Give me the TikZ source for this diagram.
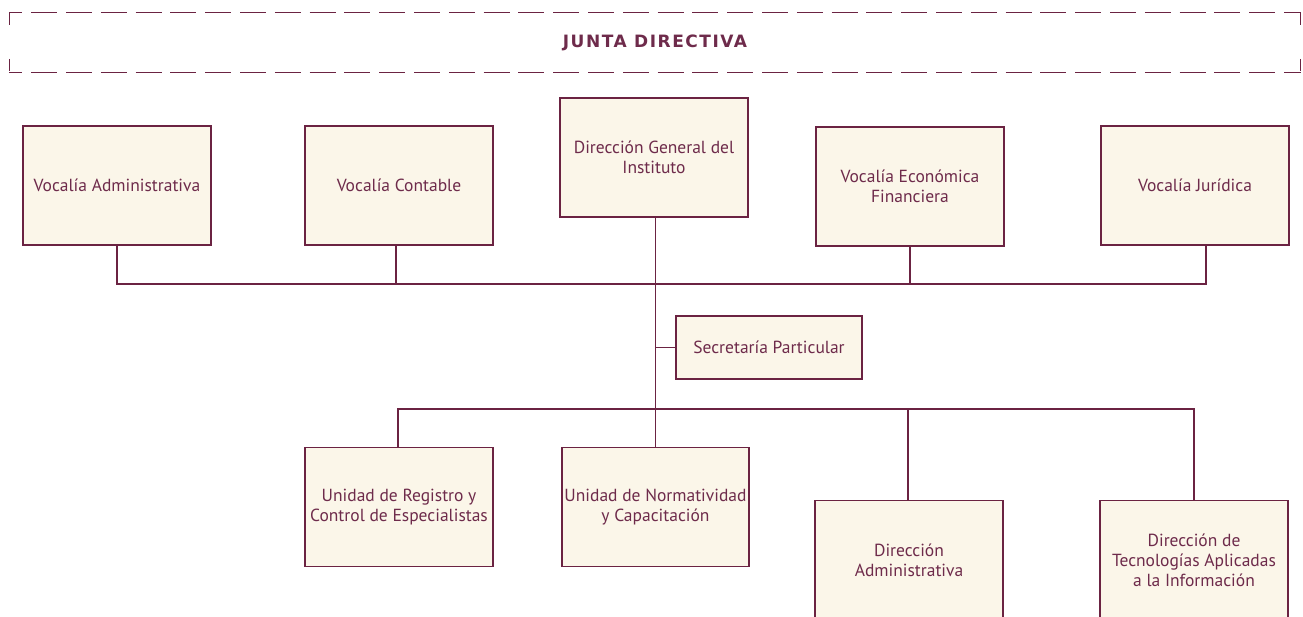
\documentclass[tikz,border=0pt]{standalone}
\usepackage{fontspec}
\setmainfont{PT Sans}
\newfontfamily\titlefont[LetterSpace=9]{DejaVu Sans}
\usetikzlibrary{positioning}

\definecolor{orgline}{HTML}{6B2342}
\definecolor{orgtext}{HTML}{6E2B4B}
\definecolor{orgfill}{HTML}{FBF6E9}

\begin{document}
\begin{tikzpicture}
[
    x = 1pt, y = -1pt,
    line width = 1.2pt, draw = orgline,
    every node/.style = {align=center, text=orgtext, font=\fontsize{17.5}{20}\selectfont}
  ]

  \tikzset{UnitStyle/.style = {draw           = orgline,
                               fill           = orgfill,
                               line width     = 1.2pt,
                               inner sep      = 2pt,
                               minimum width  = 188pt,
                               minimum height = 119pt},
           DashSide/.style  = {orgline, line width = 1.2pt,
                               dash pattern = on 26pt off 8.8pt, dash phase = 13pt}}

  \useasboundingbox (0,0) rectangle (1303,616);

  % board
  \node[minimum width=1290pt, minimum height=59pt, font=\titlefont\bfseries\fontsize{17}{20}\selectfont] (junta) at (655,42.5) {JUNTA DIRECTIVA};
  \draw[DashSide] (junta.north west) -- (junta.north east);
  \draw[DashSide] (junta.south west) -- (junta.south east);
  \draw[orgline, dash pattern = on 12.5pt off 34pt] (junta.north west) -- (junta.south west);
  \draw[orgline, dash pattern = on 12.5pt off 34pt] (junta.north east) -- (junta.south east);

  % first row
  \node[UnitStyle](adm) at (117,185.5){Vocalía Administrativa};
  \node[UnitStyle](con) at (399,185.5){Vocalía Contable};
  \node[UnitStyle](dg)  at (654,157.5){Dirección General del\\Instituto};
  \node[UnitStyle](eco) at (910,186.5){Vocalía Económica\\Financiera};
  \node[UnitStyle](jur) at (1195,185.5){Vocalía Jurídica};

  \node[UnitStyle, minimum width=186pt, minimum height=63pt](sec) at (769,347.5){Secretaría Particular};

  % second row
  \node[UnitStyle](reg) at (399,507){Unidad de Registro y\\Control de Especialistas};
  \node[UnitStyle, minimum width=187pt](nor) at (655.5,507){Unidad de Normatividad\\y Capacitación};
  \node[UnitStyle](dad) at (909,560){Dirección\\Administrativa};
  \node[UnitStyle](dti) at (1194,560){Dirección de\\Tecnologías Aplicadas\\a la Información};

  \coordinate (bus1) at (656,284);
  \coordinate (bus2) at (656,409);

  \draw (adm.south) |- (bus1) -| ([xshift=11pt]jur.south);
  \draw ([xshift=-3pt]con.south) -- ([xshift=-3pt]con.south |- bus1);
  \draw (eco.south) -- (eco.south |- bus1);
  \draw (nor.north) -- (nor.north |- dg.south);
  \draw (sec.west) -- (sec.west -| nor.north);
  \draw ([xshift=-1pt]reg.north) |- (bus2) -| (dti.north);
  \draw ([xshift=-1pt]dad.north) -- ([xshift=-1pt]dad.north |- bus2);
\end{tikzpicture}
\end{document}
